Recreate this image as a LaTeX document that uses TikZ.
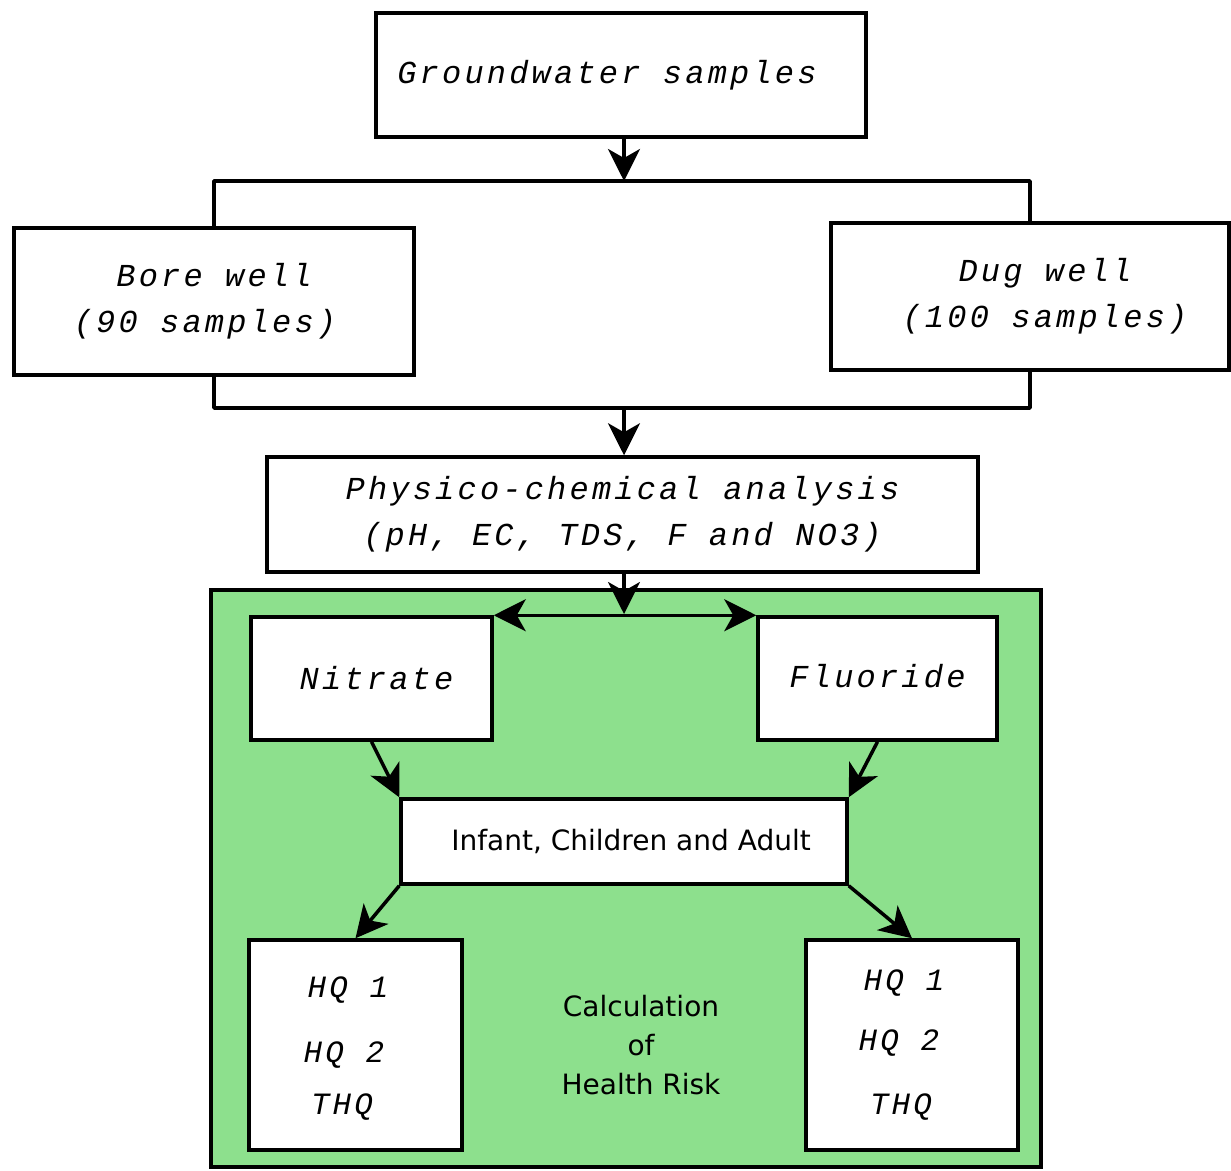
\documentclass[tikz,border=0pt]{standalone}
\usepackage{fontspec}
\usetikzlibrary{arrows.meta}
\newfontfamily\cour[LetterSpace=10]{Liberation Mono}
\newfontfamily\sans{DejaVu Sans}
\definecolor{boxgreen}{RGB}{141,224,141}
\begin{document}
\begin{tikzpicture}[x=1pt,y=-1pt,
  box/.style={draw=black,line width=3.5pt,fill=white,inner sep=0pt,align=center,
    font=\cour\itshape\fontsize{32}{46}\selectfont},
  mono/.style={inner sep=0pt,font=\cour\itshape\fontsize{31}{40}\selectfont},
  sanstext/.style={inner sep=0pt,align=center,font=\sans\fontsize{28}{39}\selectfont},
  conn/.style={line width=3.5pt,line join=round},
  arr/.style={conn,-{Stealth[length=32pt,width=32pt,inset=9pt]}},
  darr/.style={conn,{Stealth[length=32pt,width=32pt,inset=9pt]}-{Stealth[length=32pt,width=32pt,inset=9pt]}}]
\useasboundingbox (0,0) rectangle (1231,1170);
\fill[white] (0,0) rectangle (1231,1170);

% top part
\node[box,minimum width=490,minimum height=124] (gw) at (621,75) {Groundwater samples\hspace*{28pt}};
\node[box,minimum width=400,minimum height=147] (bore) at (214,301.5) {Bore well\\(90 samples)\hspace*{18pt}};
\node[box,minimum width=398,minimum height=147] (dug) at (1030,296.5) {\hspace*{30pt}Dug well\\\hspace*{30pt}(100 samples)};
\node[box,minimum width=711,minimum height=115] (phys) at (622.5,514.5) {Physico-chemical analysis\\(pH, EC, TDS, F and NO3)};

\coordinate (tj) at (624,181);
\coordinate (bj) at (624,408);
\coordinate (pj) at (624,614);

\draw[arr] (gw.south -| tj) -- (tj);
\draw[conn] (bore.north) -- (bore.north |- tj) -- (dug.north |- tj) -- (dug.north);
\draw[conn] (bore.south) -- (bore.south |- bj) -- (dug.south |- bj) -- (dug.south);
\draw[arr] (bj) -- (phys.north -| bj);

% green region
\node[draw=black,line width=4pt,fill=boxgreen,minimum width=830,minimum height=577,inner sep=0pt] (green) at (626,878.5) {};
\draw[arr] (phys.south -| pj) -- (pj);

\node[box,minimum width=241,minimum height=123] (nit) at (371.5,678.5) {\hspace*{10pt}Nitrate};
\node[box,minimum width=239,minimum height=123] (flu) at (877.5,678.5) {\raisebox{6pt}{Fluoride}};
\node[box,minimum width=446,minimum height=85,font=\sans\fontsize{28}{34}\selectfont] (inf) at (624,841.5) {\hspace*{14pt}Infant, Children and Adult};
\node[box,minimum width=213,minimum height=210] (hql) at (355.5,1045) {};
\node[box,minimum width=212,minimum height=210] (hqr) at (912,1045) {};

\draw[darr] (nit.north east) -- (flu.north west);
\draw[arr] (nit.south) -- (inf.north west);
\draw[arr] (flu.south) -- (inf.north east);
\draw[arr] (inf.south west) -- (hql.north);
\draw[arr] (inf.south east) -- (hqr.north);

\node[mono] (l1) at (348,990) {HQ 1};
\node[mono] (l2) at (344,1055) {HQ 2};
\node[mono] (l3) at (342,1107) {THQ};
\node[mono] (r1) at (904,983) {HQ 1};
\node[mono] (r2) at (899,1043) {HQ 2};
\node[mono] (r3) at (901,1107) {THQ};

\node[sanstext] (calc) at (641,1045) {Calculation\\of\\Health Risk};
\end{tikzpicture}
\end{document}
